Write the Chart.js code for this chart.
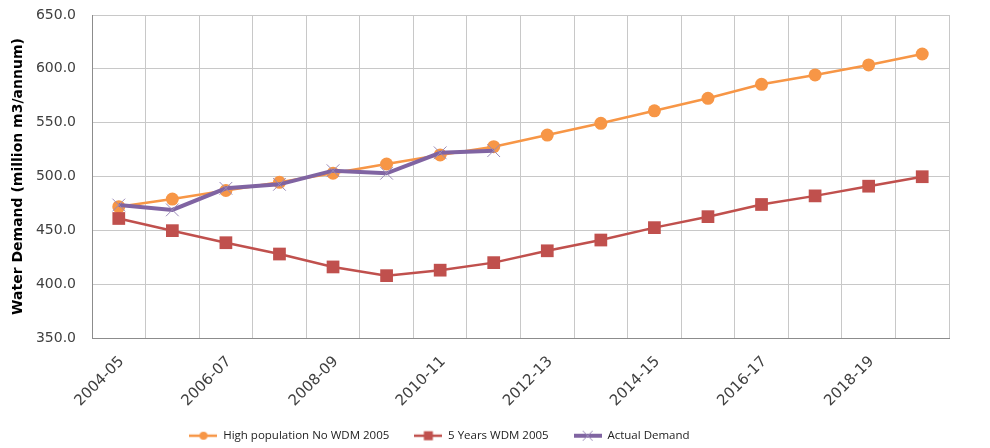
<!DOCTYPE html>
<html>
<head>
<meta charset="utf-8">
<script src="https://cdn.jsdelivr.net/npm/chart.js@4.4.1/dist/chart.umd.min.js"></script>
<style>
  html, body { margin: 0; padding: 0; background: #fff; }
  #wrap { width: 990px; height: 448px; }
</style>
</head>
<body>
<div id="wrap"><canvas id="chart" width="990" height="448"></canvas></div>
<script>
// Data
const years = ['2004-05', '2005-06', '2006-07', '2007-08', '2008-09', '2009-10', '2010-11', '2011-12',
  '2012-13', '2013-14', '2014-15', '2015-16', '2016-17', '2017-18', '2018-19', '2019-20'];
const highPopulation = [472, 479, 487, 494.6, 503, 511.6, 520, 527.7,
  538.5, 549.4, 561, 572.6, 585.6, 594.3, 603.6, 613.8];
const fiveYearsWdm = [461, 449.7, 438.5, 428, 416, 407.9, 413, 420,
  431, 441, 452.5, 462.7, 474, 482, 491, 499.8];
const actualDemand = [473.5, 469, 489, 492.7, 505.4, 503, 522, 524];
const seriesNames = ['High population No WDM 2005', '5 Years WDM 2005', 'Actual Demand'];
const yMin = 350, yMax = 650, yStep = 50;

const ORANGE = '#F79646';
const RED = '#C0504D';
const PURPLE = '#8064A2';

// nudge the legend to where Excel put it
const LEGEND_DX = -35;
const LEGEND_DY = -5;

function legendIcon(color, lineWidth, drawMarker) {
  const c = document.createElement('canvas');
  c.width = 28;
  c.height = 14;
  const ctx = c.getContext('2d');
  ctx.strokeStyle = color;
  ctx.lineWidth = lineWidth;
  ctx.beginPath();
  ctx.moveTo(0, 7);
  ctx.lineTo(28, 7);
  ctx.stroke();
  drawMarker(ctx, 14, 7);
  return c;
}

const icons = [
  legendIcon(ORANGE, 2.5, (ctx, x, y) => {
    ctx.fillStyle = ORANGE;
    ctx.beginPath();
    ctx.arc(x, y, 4, 0, Math.PI * 2);
    ctx.fill();
  }),
  legendIcon(RED, 2.5, (ctx, x, y) => {
    ctx.fillStyle = RED;
    ctx.fillRect(x - 4.5, y - 4.5, 9, 9);
  }),
  legendIcon(PURPLE, 4, (ctx, x, y) => {
    ctx.strokeStyle = '#9a8ab8';
    ctx.lineWidth = 1;
    ctx.beginPath();
    ctx.moveTo(x - 5, y - 5); ctx.lineTo(x + 5, y + 5);
    ctx.moveTo(x + 5, y - 5); ctx.lineTo(x - 5, y + 5);
    ctx.stroke();
  })
];

const legendShift = {
  id: 'legendShift',
  afterLayout(chart) {
    const lg = chart.legend;
    if (!lg) return;
    lg.left += LEGEND_DX;
    lg.right += LEGEND_DX;
    lg.top += LEGEND_DY;
    lg.bottom += LEGEND_DY;
  }
};

Chart.defaults.font.family = 'DejaVu Sans';
Chart.defaults.color = '#404040';

new Chart(document.getElementById('chart'), {
  type: 'line',
  data: {
    labels: years,
    datasets: [
      {
        label: seriesNames[0],
        data: highPopulation,
        borderColor: ORANGE,
        backgroundColor: ORANGE,
        borderWidth: 2.5,
        pointStyle: 'circle',
        pointRadius: 6.5,
        pointBorderWidth: 0,
        order: 2
      },
      {
        label: seriesNames[1],
        data: fiveYearsWdm,
        borderColor: RED,
        backgroundColor: RED,
        borderWidth: 2.5,
        pointStyle: 'rect',
        pointRadius: 9,
        pointBorderWidth: 0,
        order: 1
      },
      {
        label: seriesNames[2],
        data: actualDemand,
        borderColor: PURPLE,
        backgroundColor: PURPLE,
        borderWidth: 4,
        pointStyle: 'crossRot',
        pointRadius: 9,
        pointBorderWidth: 1,
        pointBorderColor: '#9a8ab8',
        order: 0
      }
    ]
  },
  options: {
    responsive: false,
    animation: false,
    layout: { padding: { top: 15, right: 41, bottom: 0, left: 0 } },
    plugins: {
      tooltip: { enabled: false },
      legend: {
        position: 'bottom',
        maxHeight: 38,
        labels: {
          usePointStyle: true,
          pointStyleWidth: 28,
          padding: 25,
          color: '#222',
          font: { family: 'Open Sans', size: 11.5 },
          sort: (a, b) => a.datasetIndex - b.datasetIndex,
          generateLabels(chart) {
            const items = Chart.defaults.plugins.legend.labels.generateLabels(chart);
            items.forEach(it => { it.pointStyle = icons[it.datasetIndex]; });
            return items;
          }
        }
      }
    },
    scales: {
      x: {
        offset: true,
        grid: { offset: true, color: '#c8c8c8', drawTicks: false },
        border: { color: '#8c8c8c' },
        ticks: {
          autoSkip: false,
          minRotation: 45,
          maxRotation: 45,
          padding: 15,
          labelOffset: 3,
          font: { size: 15 },
          callback(value, index) {
            return index % 2 === 0 ? years[index] : '';
          }
        },
        afterFit(scale) { scale.height = 72; }
      },
      y: {
        min: yMin,
        max: yMax,
        grid: { color: '#c8c8c8', drawTicks: false },
        border: { color: '#8c8c8c' },
        ticks: {
          stepSize: yStep,
          padding: 16,
          font: { size: 14 },
          callback: v => v.toFixed(1)
        },
        title: {
          display: true,
          text: 'Water Demand (million m3/annum)',
          color: '#000',
          font: { size: 14, weight: 'bold' },
          padding: { top: 10, bottom: 4 }
        },
        afterFit(scale) {
          scale.width = 92;
          // tick padding should not push the plot top down
          scale.paddingTop = 9;
          scale.paddingBottom = 9;
        }
      }
    }
  },
  plugins: [legendShift]
});
</script>
</body>
</html>
